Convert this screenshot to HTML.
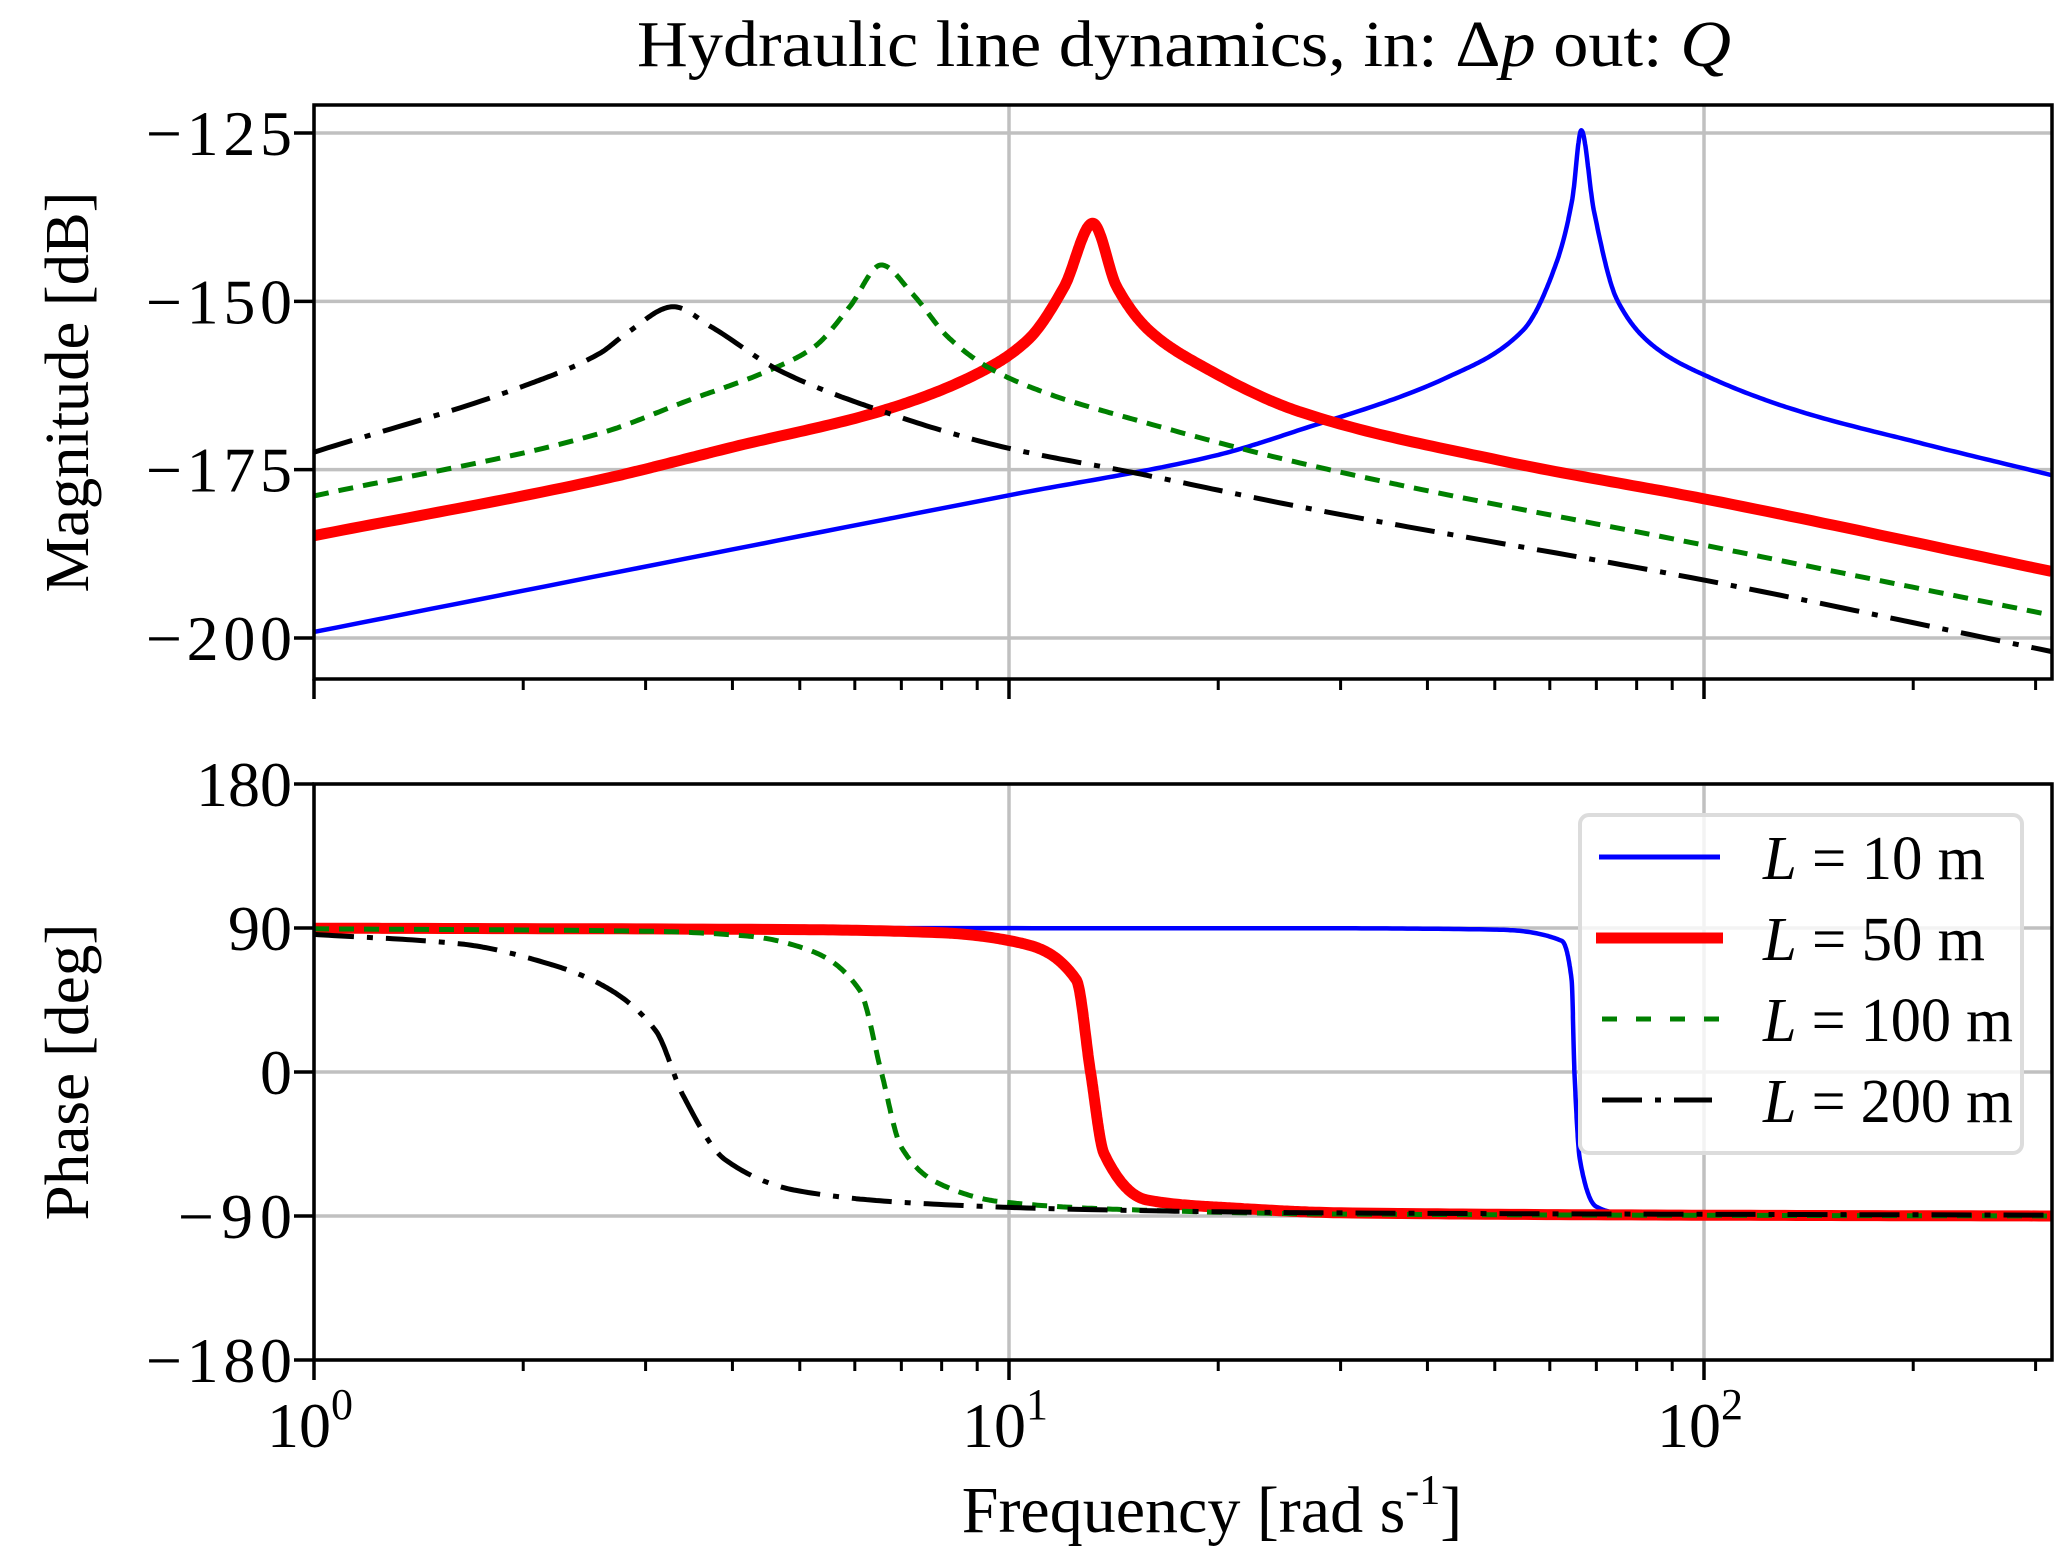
<!DOCTYPE html>
<html><head><meta charset="utf-8"><style>
html,body{margin:0;padding:0;background:#fff;}
svg{display:block;font-family:"Liberation Serif",serif;}
</style></head><body>
<svg id="chart" width="2067" height="1553" viewBox="0 0 2067 1553" xmlns="http://www.w3.org/2000/svg">
<rect width="2067" height="1553" fill="#fff"/>
<text x="1184" y="66" font-size="66" text-anchor="middle" textLength="1094" lengthAdjust="spacingAndGlyphs">Hydraulic line dynamics, in: Δ<tspan font-style="italic">p</tspan> out: <tspan font-style="italic">Q</tspan></text>
<g id="grid"></g>
<g id="series"></g>
<g id="axes"></g>
<text transform="translate(88,392) rotate(-90)" font-size="62" text-anchor="middle" textLength="401" lengthAdjust="spacingAndGlyphs">Magnitude [dB]</text>
<text transform="translate(88,1072) rotate(-90)" font-size="62" text-anchor="middle" textLength="297" lengthAdjust="spacingAndGlyphs">Phase [deg]</text>
<text x="1212" y="1532" font-size="66" text-anchor="middle">Frequency [rad  s<tspan font-size="42" dy="-28">-1</tspan><tspan dy="28">]</tspan></text>
<g>
<rect x="1580" y="815" width="442" height="338" rx="9" fill="rgba(255,255,255,0.8)" stroke="#dcdcdc" stroke-width="4"/>
<line x1="1599" y1="857" x2="1720" y2="857" stroke="#0000ff" stroke-width="5"/>
<line x1="1596" y1="938" x2="1723" y2="938" stroke="#ff0000" stroke-width="11"/>
<line x1="1602" y1="1019" x2="1720" y2="1019" stroke="#008000" stroke-width="5" stroke-dasharray="15 19"/>
<line x1="1602" y1="1100" x2="1712" y2="1100" stroke="#000" stroke-width="5" stroke-dasharray="40 13 6 13"/>
<text x="1763" y="879" font-size="62" textLength="222" lengthAdjust="spacingAndGlyphs"><tspan font-style="italic">L</tspan> = 10  m</text>
<text x="1763" y="960" font-size="62" textLength="222" lengthAdjust="spacingAndGlyphs"><tspan font-style="italic">L</tspan> = 50  m</text>
<text x="1763" y="1041" font-size="62" textLength="250" lengthAdjust="spacingAndGlyphs"><tspan font-style="italic">L</tspan> = 100  m</text>
<text x="1763" y="1122" font-size="62" textLength="250" lengthAdjust="spacingAndGlyphs"><tspan font-style="italic">L</tspan> = 200  m</text>
</g>
</svg>
<script>
// ---- data ----
const magTicks = [-125, -150, -175, -200];
const phaseTicks = [180, 90, 0, -90, -180];
const xMajorTicks = [1, 10, 100];
const xTickLabels = ["0", "1", "2"];

const blueMagF = [1, 10, 20, 26.2, 42.9, 54.9, 61.5, 64.6, 66.6, 69.4, 75, 85, 101.4, 135, 204, 316];
const blueMagV = [-199.1, -178.8, -172.8, -169.1, -161.2, -154.3, -143.9, -135, -124.6, -136.4, -149.8, -156.8, -161.2, -166.1, -171, -175.8];
const redMagF = [1, 2.58, 4.02, 6.64, 9.06, 10.65, 12.0, 13.2, 14.3, 15.9, 19.1, 26.2, 50.7, 102, 316];
const redMagV = [-184.8, -176.5, -171.6, -166.1, -160.6, -155.7, -147.9, -138.4, -147.9, -154.3, -159.8, -166.4, -173.6, -179.5, -190.1];
const greenMagF = [1, 2.58, 3.46, 4.53, 5.24, 5.9, 6.55, 7.25, 8.17, 9.33, 11.3, 15.2, 26.2, 100, 316];
const greenMagV = [-178.9, -169.6, -164.7, -160.2, -156.8, -150.8, -144.6, -148.8, -155.3, -159.8, -163.6, -167.6, -174, -186.2, -196.6];
const blackMagF = [1, 2.0, 2.58, 2.82, 3.29, 3.73, 4.66, 6.27, 9.78, 15.2, 26.2, 100, 316];
const blackMagV = [-172.4, -162.6, -157.7, -154.7, -150.8, -153.8, -160.2, -165.6, -171.6, -175.5, -180.5, -191.4, -202.0];

const bluePhF = [1, 30, 50, 62.4, 64.5, 65.1, 66.3, 69.9, 75, 100, 316];
const bluePhV = [90, 89.8, 89, 82, 57.5, 0, -55, -84, -88, -89.5, -89.8];
const redPhF = [1, 5, 8, 10.4, 12.5, 13.1, 13.7, 15.8, 21, 30, 100, 316];
const redPhV = [89.9, 89, 87, 80.6, 57.5, 0, -51, -80, -85, -88, -89.5, -90];
const greenPhF = [1, 3, 4.2, 5.17, 6.1, 6.55, 7.0, 7.87, 9.7, 14.7, 30, 316];
const greenPhV = [89.5, 88, 85, 76, 51, 0, -47, -69, -81, -86, -88.8, -90];
const blackPhF = [1, 1.63, 2.2, 2.58, 3.1, 3.4, 3.91, 4.94, 7.35, 13.1, 28, 316];
const blackPhV = [86, 80, 67, 55, 26, -15, -55, -74, -82, -86, -88, -89.5];

// ---- axes geometry ----
const X0 = 314, X1 = 2052, DEC = 695;
const MT = 105, MB = 679, PT = 784, PB = 1360;
const xs = f => X0 + DEC * Math.log10(f);
const ym = v => 133 + (-125 - v) * (505 / 75);
const yp = v => 1072 - v * (144 / 90);
const NS = 'http://www.w3.org/2000/svg';
function mk(tag, attrs, parent) {
  const e = document.createElementNS(NS, tag);
  for (const k in attrs) e.setAttribute(k, attrs[k]);
  parent.appendChild(e); return e;
}
const grid = document.getElementById('grid');
const axes = document.getElementById('axes');
const series = document.getElementById('series');

// smooth cubic Hermite interpolation in log-f (weighted three-point tangents)
function curve(F, V, ymap) {
  const x = F.map(f => Math.log10(f)), n = x.length;
  const d = [], h = [], m = new Array(n);
  for (let i = 0; i < n - 1; i++) { h.push(x[i + 1] - x[i]); d.push((V[i + 1] - V[i]) / h[i]); }
  m[0] = d[0]; m[n - 1] = d[n - 2];
  for (let i = 1; i < n - 1; i++) {
    if (d[i - 1] * d[i] <= 0) { m[i] = 0; continue; }
    const w1 = 2 * h[i] + h[i - 1], w2 = h[i] + 2 * h[i - 1];
    m[i] = (w1 + w2) / (w1 / d[i - 1] + w2 / d[i]);
  }
  let p = '';
  for (let i = 0; i < n - 1; i++) {
    for (let k = 0; k <= 30; k++) {
      if (i > 0 && k === 0) continue;
      const t = k / 30, t2 = t * t, t3 = t2 * t;
      const v = (2 * t3 - 3 * t2 + 1) * V[i] + (t3 - 2 * t2 + t) * h[i] * m[i] + (-2 * t3 + 3 * t2) * V[i + 1] + (t3 - t2) * h[i] * m[i + 1];
      const px = X0 + DEC * (x[i] + t * h[i]);
      p += (p ? 'L' : 'M') + px.toFixed(1) + ' ' + ymap(v).toFixed(1);
    }
  }
  return p;
}

// grid
[MT, PT].forEach((top, idx) => {
  const bot = idx ? PB : MB;
  xMajorTicks.forEach(f => {
    const g = mk('line', { x1: xs(f), x2: xs(f), y1: top, y2: bot, stroke: '#c0c0c0', 'stroke-width': 3.5 }, grid);
    
    
  });
});
magTicks.forEach(v => {
  const g = mk('line', { x1: X0, x2: X1, y1: ym(v), y2: ym(v), stroke: '#c0c0c0', 'stroke-width': 3.5 }, grid);
  
  
});
phaseTicks.forEach(v => {
  const g = mk('line', { x1: X0, x2: X1, y1: yp(v), y2: yp(v), stroke: '#c0c0c0', 'stroke-width': 3.5 }, grid);
  
  
});

// series
const defs = [
  ['black', blackMagF, blackMagV, blackPhF, blackPhV, '#000', 5, '40 13 6 13', 'L-200m'],
  ['green', greenMagF, greenMagV, greenPhF, greenPhV, '#008000', 5, '15 10', 'L-100m'],
  ['red', redMagF, redMagV, redPhF, redPhV, '#ff0000', 11, '', 'L-50m'],
  ['blue', blueMagF, blueMagV, bluePhF, bluePhV, '#0000ff', 4.5, '', 'L-10m']
];
const order = ['blue', 'red', 'green', 'black'];
order.forEach(key => {
  const s = defs.find(d => d[0] === key);
  const a = { fill: 'none', stroke: s[5], 'stroke-width': s[6], 'stroke-linejoin': 'round' };
  if (s[7]) a['stroke-dasharray'] = s[7];
  const pm = mk('path', Object.assign({ d: curve(s[1], s[2], ym) }, a), series);
  
  
  const pp = mk('path', Object.assign({ d: curve(s[3], s[4], yp) }, a), series);
  
  
});
const cp = mk('clipPath', { id: 'clipAx' }, mk('defs', {}, document.getElementById('chart')));
mk('rect', { x: X0, y: MT, width: X1 - X0, height: MB - MT }, cp);
mk('rect', { x: X0, y: PT, width: X1 - X0, height: PB - PT }, cp);
series.setAttribute('clip-path', 'url(#clipAx)');

// axes frames and ticks
[[MT, MB, 'magnitude'], [PT, PB, 'phase']].forEach(([top, bot, nm]) => {
  const r = mk('rect', { x: X0, y: top, width: X1 - X0, height: bot - top, fill: 'none', stroke: '#000', 'stroke-width': 3.5 }, axes);
  
  
  for (let dec = 0; dec <= 2; dec++) {
    for (let k = 1; k <= 9; k++) {
      const f = k * Math.pow(10, dec);
      if (f > 316) continue;
      const len = k === 1 ? 20 : 11;
      const t = mk('line', { x1: xs(f), x2: xs(f), y1: bot, y2: bot + len, stroke: '#000', 'stroke-width': k === 1 ? 3.5 : 3 }, axes);
      
      
    }
  }
});
function yLabel(v, y, nm) {
  const t = mk('line', { x1: X0 - 20, x2: X0, y1: y, y2: y, stroke: '#000', 'stroke-width': 3.5 }, axes);
  
  
  const l = mk('text', { x: 292, y: y + 22, 'font-size': 64, 'text-anchor': 'end' }, axes);
  
  
  l.textContent = v < 0 ? '\u2212' + Math.abs(v) : String(v);
  if (v < 0) {
    const w = l.getComputedTextLength();
    l.setAttribute('textLength', (w + 14).toFixed(1));
  }
}
magTicks.forEach(v => yLabel(v, ym(v), 'magnitude'));
phaseTicks.forEach(v => yLabel(v, yp(v), 'phase'));
xMajorTicks.forEach((f, i) => {
  const l = mk('text', { x: xs(f) - 4, y: 1447, 'font-size': 64, 'text-anchor': 'middle' }, axes);
  
  
  l.appendChild(document.createTextNode('10'));
  const s = mk('tspan', { 'font-size': 44, dy: -28 }, l);
  s.textContent = xTickLabels[i];
});
</script>
</body></html>
